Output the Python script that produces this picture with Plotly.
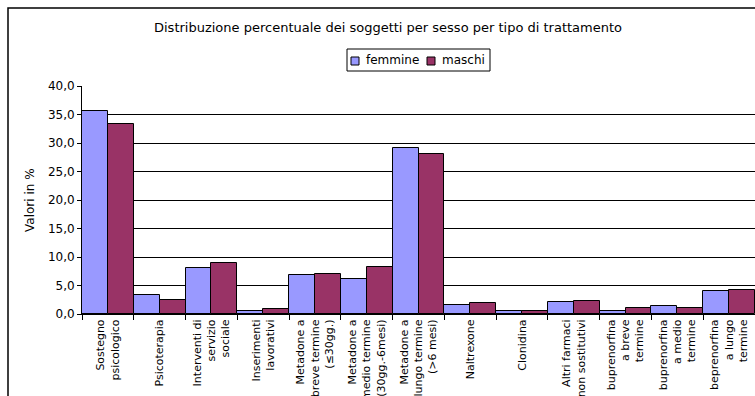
import plotly.graph_objects as go

# Treatment categories (line breaks as shown on the axis)
categories = [
    "Sostegno<br>psicologico",
    "Psicoterapia",
    "Interventi di<br>servizio<br>sociale",
    "Inserimenti<br>lavorativi",
    "Metadone a<br>breve termine<br>(≤30gg.)",
    "Metadone a<br>medio termine<br>(30gg.-6mesi)",
    "Metadone a<br>lungo termine<br>(>6 mesi)",
    "Naltrexone",
    "Clonidina",
    "Altri farmaci<br>non sostitutivi",
    "buprenorfina<br>a breve<br>termine",
    "buprenorfina<br>a medio<br>termine",
    "beprenorfina<br>a lungo<br>termine",
]

# Percentage of subjects by sex
femmine = [35.6, 3.4, 8.0, 0.6, 6.8, 6.2, 29.2, 1.6, 0.5, 2.1, 0.6, 1.4, 4.0]
maschi = [33.4, 2.5, 8.9, 0.8, 7.0, 8.2, 28.1, 1.9, 0.5, 2.3, 1.1, 1.1, 4.2]

series_names = ["femmine", "maschi"]
series_colors = ["#9999FF", "#993366"]

y_ticks = [0, 5, 10, 15, 20, 25, 30, 35, 40]

FONT = "DejaVu Sans"

fig = go.Figure()
for name, vals, col in zip(series_names, [femmine, maschi], series_colors):
    fig.add_trace(go.Bar(
        x=categories, y=vals, name=name, showlegend=False,
        marker=dict(color=col, line=dict(color="#000000", width=1)),
    ))

W, H = 755, 396
ML, MR, MT, MB = 82, 0, 86, 82
pw = W - ML - MR
ph = H - MT - MB


def px_x(px):
    """Pixel column -> paper x."""
    return (px - ML) / pw


def px_y(py):
    """Pixel row -> paper y."""
    return 1 + (MT - py) / ph


fig.update_layout(
    width=W, height=H,
    margin=dict(l=ML, r=MR, t=MT, b=MB, pad=0),
    paper_bgcolor="white", plot_bgcolor="white",
    separators=",.",
    barmode="group", bargap=0, bargroupgap=0,
    font=dict(family=FONT, color="#000000"),
    title=dict(
        text="Distribuzione percentuale dei soggetti per sesso per tipo di trattamento",
        x=388 / W, xanchor="center", y=1 - 27 / H, yanchor="middle",
        font=dict(family=FONT, size=13, color="#000000"),
    ),
    showlegend=False,
)

fig.update_xaxes(
    type="category",
    tickangle=-90,
    tickfont=dict(family=FONT, size=11, color="#000000"),
    ticks="outside", tickson="boundaries", ticklen=5, tickcolor="#000000",
    showline=True, linecolor="#000000", linewidth=1,
    showgrid=False, automargin=False,
)
fig.update_yaxes(
    range=[0, 40],
    tickvals=y_ticks, tickformat=".1f",
    tickfont=dict(family=FONT, size=12, color="#000000"),
    ticks="outside", ticklen=4, tickcolor="#000000",
    showline=True, linecolor="#000000", linewidth=1,
    showgrid=True, gridcolor="#000000", gridwidth=1,
    zeroline=False, automargin=False,
)

# Axis title
fig.add_annotation(
    text="Valori in %", textangle=-90,
    xref="paper", yref="paper",
    x=px_x(30), y=px_y(200),
    xanchor="center", yanchor="middle", showarrow=False,
    font=dict(family=FONT, size=12, color="#000000"),
)

# Outer chart frame
fig.add_shape(
    type="rect", xref="paper", yref="paper",
    x0=px_x(8), x1=1.2, y0=-1.0, y1=px_y(8),
    line=dict(color="#000000", width=1.5), fillcolor="rgba(0,0,0,0)",
    layer="below",
)

# Compact legend box with square swatches
fig.add_shape(
    type="rect", xref="paper", yref="paper",
    x0=px_x(347), x1=px_x(490), y0=px_y(71), y1=px_y(49),
    line=dict(color="#000000", width=1), fillcolor="white",
)
legend_items = [(351, 364), (427, 440)]
for (sx, tx), name, col in zip(legend_items, series_names, series_colors):
    fig.add_shape(
        type="rect", xref="paper", yref="paper",
        x0=px_x(sx), x1=px_x(sx + 8), y0=px_y(65), y1=px_y(57),
        line=dict(color="#000000", width=1), fillcolor=col,
    )
    fig.add_annotation(
        text=name, xref="paper", yref="paper",
        x=px_x(tx), y=px_y(60.5), xanchor="left", yanchor="middle",
        showarrow=False,
        font=dict(family=FONT, size=12, color="#000000"),
    )

fig.write_html("out.html")
